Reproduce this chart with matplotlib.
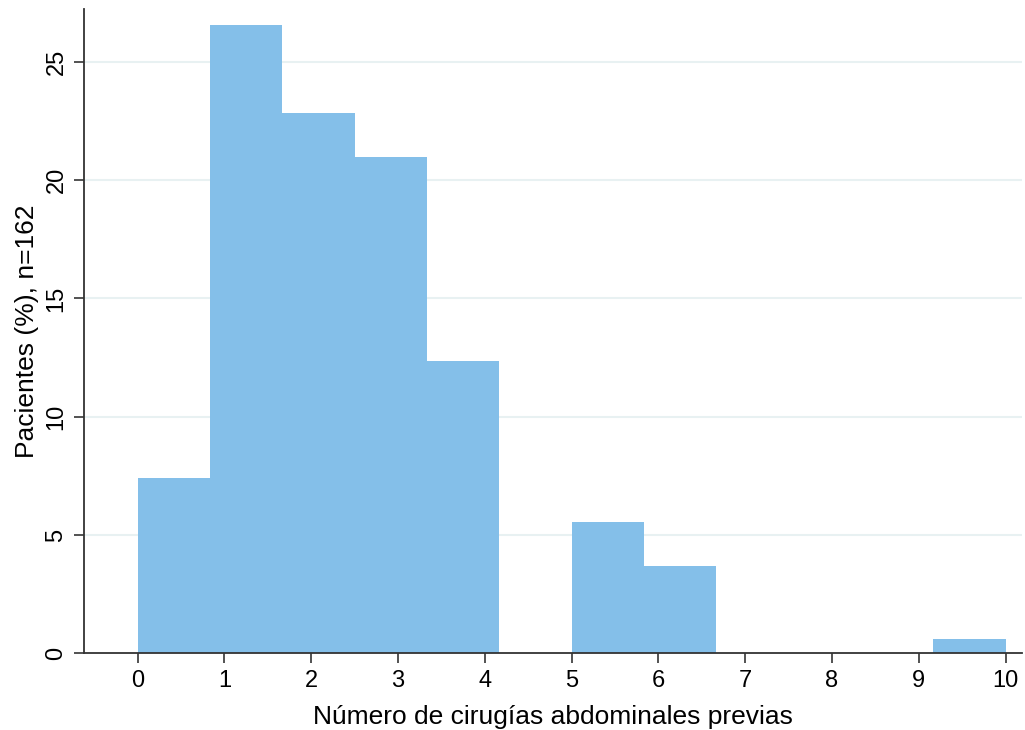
import numpy as np
import matplotlib
matplotlib.use('Agg')
import matplotlib.pyplot as plt

# 12 bins between 0 and 10, counts out of n=162
bin_edges = np.linspace(0, 10, 13)
counts = [12, 43, 37, 34, 20, 0, 9, 6, 0, 0, 0, 1]
n_total = 162
percent = [100.0 * c / n_total for c in counts]

x_ticks = list(range(0, 11))
y_ticks = [0, 5, 10, 15, 20, 25]

plt.rcParams['font.family'] = ['Liberation Sans', 'DejaVu Sans']

fig = plt.figure(figsize=(10.25, 7.3), dpi=100)
ax = fig.add_axes([0.0822, 0.105, 0.915, 0.883])

widths = np.diff(bin_edges)
ax.bar(bin_edges[:-1], percent, width=widths, align='edge',
       color='#84bfe9', edgecolor='none', zorder=2)

ax.set_xlim(-0.615, 10.19)
ax.set_ylim(0, 27.24)
ax.set_xticks(x_ticks)
ax.set_yticks(y_ticks)
ax.set_yticklabels([str(v) for v in y_ticks], rotation=90, va='center')

for v in y_ticks[1:]:
    ax.axhline(v, color='#e8f1f2', lw=1.5, zorder=1)

for side in ['top', 'right']:
    ax.spines[side].set_visible(False)
for side in ['left', 'bottom']:
    ax.spines[side].set_color('#333333')
    ax.spines[side].set_linewidth(1.3)

ax.tick_params(axis='both', direction='out', length=7, width=1.3,
               color='#444444', labelsize=17, pad=5)

ax.set_xlabel("Número de cirugías abdominales previas", fontsize=19, labelpad=9)
ax.set_ylabel("Pacientes (%), n=162", fontsize=19, labelpad=5)

fig.savefig("out.png", dpi=100)
